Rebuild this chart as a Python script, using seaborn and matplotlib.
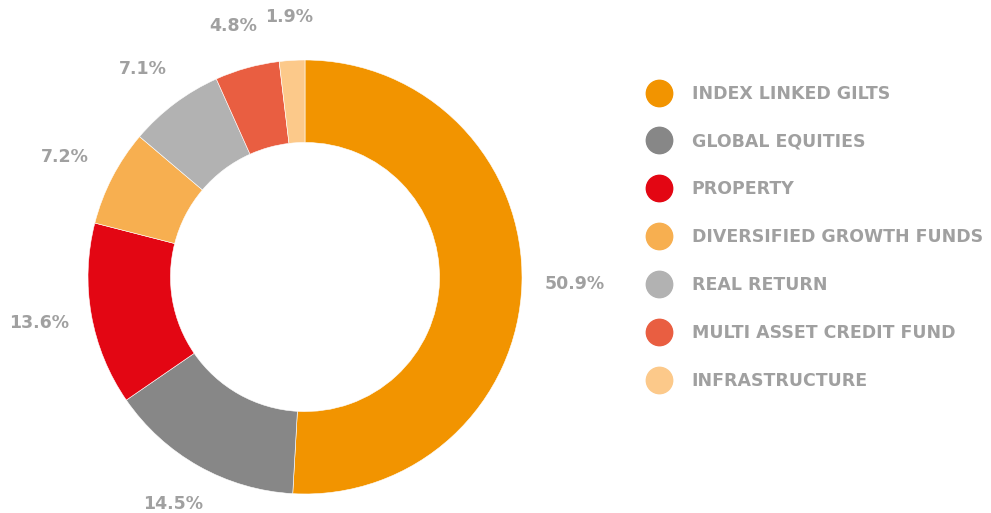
import matplotlib
matplotlib.use("Agg")
import matplotlib.pyplot as plt
import numpy as np
import seaborn as sns
from matplotlib.lines import Line2D

# asset allocation data
categories = [
    "INDEX LINKED GILTS",
    "GLOBAL EQUITIES",
    "PROPERTY",
    "DIVERSIFIED GROWTH FUNDS",
    "REAL RETURN",
    "MULTI ASSET CREDIT FUND",
    "INFRASTRUCTURE",
]
shares = [50.9, 14.5, 13.6, 7.2, 7.1, 4.8, 1.9]
colours = ["#F29400", "#878787", "#E30613", "#F7AF50", "#B2B2B2", "#E95E41", "#FCC98A"]

sns.set_theme(style="white")
plt.rcParams["font.family"] = ["DejaVu Sans"]
textgrey = "#a0a0a0"

fig = plt.figure(figsize=(9.91, 5.13), dpi=100)
# pie radius = 217 px, centre at (305, 277) from top-left
rpx = 217.0
cx, cy = 305.0, 513.0 - 277.0
ax = fig.add_axes([0, 0, 607 / 991, 1])

wedges, _ = ax.pie(
    shares,
    colors=sns.color_palette(colours),
    startangle=90,
    counterclock=False,
    radius=1.0,
    wedgeprops=dict(width=0.38, edgecolor="white", linewidth=0.4),
)
# pie() resets the limits, so set them afterwards
ax.set_xlim(-cx / rpx, (607 - cx) / rpx)
ax.set_ylim(-cy / rpx, (513 - cy) / rpx)
ax.set_axis_off()

# percentage labels on a slightly flattened ring outside the donut
for w, v in zip(wedges, shares):
    ang = np.deg2rad((w.theta1 + w.theta2) / 2)
    ax.text(
        1.245 * np.cos(ang),
        1.20 * np.sin(ang),
        f"{v}%",
        ha="center",
        va="center",
        fontsize=12.5,
        fontweight="bold",
        color=textgrey,
    )

handles = [
    Line2D([], [], marker="o", linestyle="", markersize=19, markerfacecolor=c,
           markeredgecolor=c)
    for c in colours
]
leg = fig.legend(
    handles,
    categories,
    loc="upper left",
    bbox_to_anchor=(631 / 991, 1 - 69 / 513),
    frameon=False,
    fontsize=12.5,
    labelspacing=1.72,
    handletextpad=1.2,
    handlelength=1.4,
)
for t in leg.get_texts():
    t.set_color(textgrey)
    t.set_fontweight("bold")

fig.savefig("out.png", dpi=100)
